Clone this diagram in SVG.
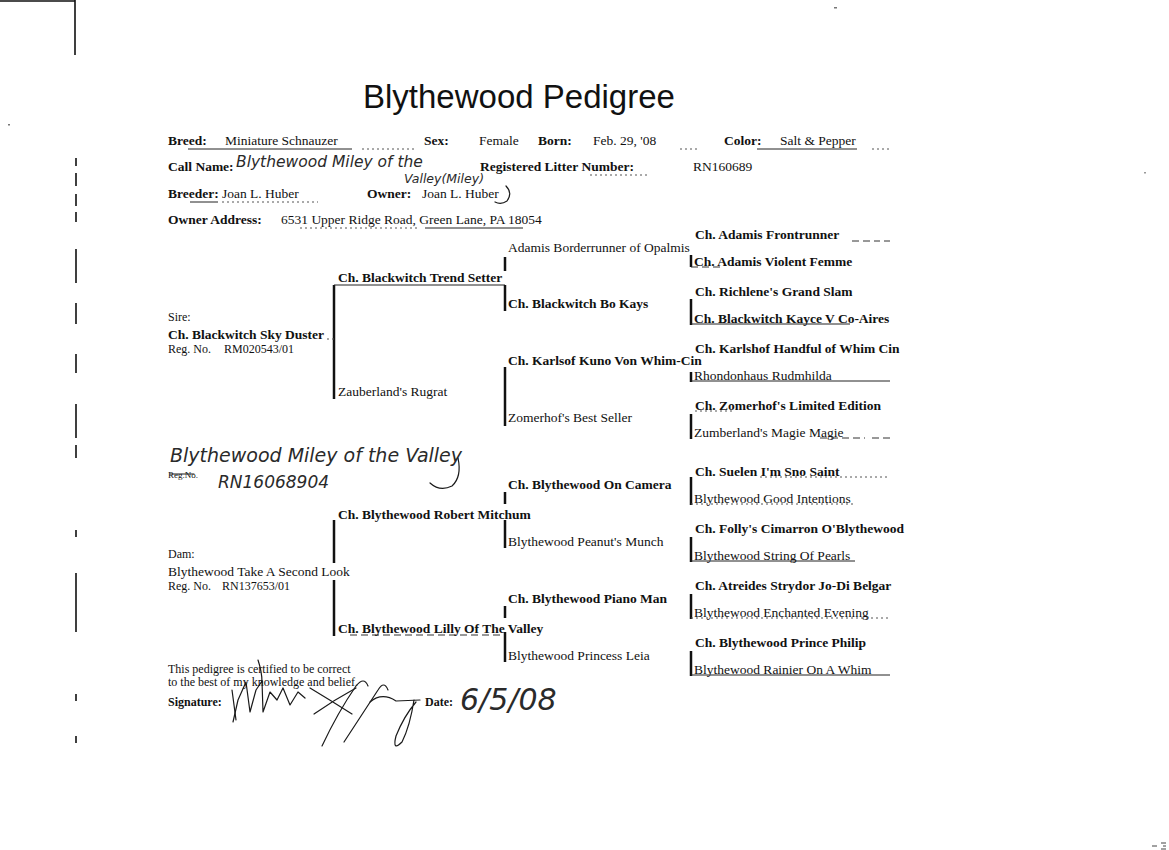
<svg xmlns="http://www.w3.org/2000/svg" width="1169" height="850" viewBox="0 0 1169 850">
<style>
.t{font-family:"Liberation Serif","Times New Roman",serif;font-size:13.5px;fill:#111}
.b{font-weight:bold}
.s{font-size:12px}
.xs{font-size:9px}
.hw{font-family:"DejaVu Sans","Liberation Sans",sans-serif;font-weight:200;font-style:italic;fill:#2a2a2a}
.title{font-family:"Liberation Sans",Arial,sans-serif;font-size:33px;fill:#111}
.bar{stroke:#111;stroke-width:2.5;fill:none}
.ul{stroke:#222;stroke-width:1;fill:none}
.dot{stroke:#555;stroke-width:1;fill:none;stroke-dasharray:2 3}
.dash{stroke:#333;stroke-width:1;fill:none;stroke-dasharray:7 4}
.ink{stroke:#1a1a1a;stroke-width:1.2;fill:none;stroke-linecap:round;stroke-linejoin:round}
.edge{stroke:#111;stroke-width:1.6;fill:none}
</style>
<rect width="1169" height="850" fill="#fff"/>

<g id="scan-marks">
  <path class="edge" d="M0,1 H75 M75,0 V55"/>
  <path class="edge" stroke="#444" d="M76,158 V166 M76,173 V186 M76,194 V206 M76,212 V222"/>
  <path class="edge" d="M76,249 V283 M76,303 V324 M76,354 V373 M76,404 V438 M76,445 V458 M76,530 V537 M76,573 V632 M76,694 V701 M76,736 V743"/>
  <rect x="8" y="124" width="2" height="1.5" fill="#777"/>
  <rect x="834" y="7" width="3" height="1.5" fill="#777"/>
  <rect x="1144" y="172" width="2" height="1.5" fill="#999"/>
  <path d="M1152,846 H1157 M1161,843 H1166 M1163,846 H1166 M1161,849 H1166" stroke="#444" stroke-width="1"/>
</g>

<g id="title"><text class="title" x="363" y="108">Blythewood Pedigree</text></g>

<g id="header">
  <text class="t b" x="168" y="145">Breed:</text>
  <text class="t" x="225" y="145">Miniature Schnauzer</text>
  <path class="ul" d="M188,149 H352"/>
  <path class="dot" d="M362,149 H415"/>
  <text class="t b" x="424" y="145">Sex:</text>
  <text class="t" x="479" y="145">Female</text>
  <text class="t b" x="538" y="145">Born:</text>
  <text class="t" x="593" y="145">Feb. 29, '08</text>
  <path class="dot" d="M680,149 H700"/>
  <text class="t b" x="724" y="145">Color:</text>
  <text class="t" x="780" y="145">Salt &amp; Pepper</text>
  <path class="ul" d="M757,149 H857"/>
  <path class="dot" d="M872,149 H890"/>

  <text class="t b" x="168" y="171">Call Name:</text>
  <text class="hw" x="236" y="166.5" font-size="15.5">Blythewood Miley of the</text>
  <text class="hw" x="404" y="183" font-size="12.5">Valley(Miley)</text>
  <text class="t b" x="480" y="171">Registered Litter Number:</text>
  <path class="dot" d="M590,175 H650"/>
  <text class="t" x="693" y="171">RN160689</text>

  <text class="t b" x="168" y="198">Breeder:</text>
  <text class="t" x="222" y="198">Joan L. Huber</text>
  <path class="ul" d="M190,202 H218"/>
  <path class="dot" d="M222,202 H318"/>
  <text class="t b" x="367" y="198">Owner:</text>
  <text class="t" x="422" y="198">Joan L. Huber</text>
  <path class="ink" d="M506,186 Q513,193 507,201 Q501,205 495,202"/>

  <text class="t b" x="168" y="224">Owner Address:</text>
  <text class="t" x="281" y="224">6531 Upper Ridge Road, Green Lane, PA 18054</text>
  <path class="dot" d="M300,228 H420"/>
  <path class="ul" d="M425,228 H523"/>
</g>

<g id="connectors">
  <path class="bar" d="M334,285 V399"/>
  <path class="ul" d="M334,285 H505"/>
  <path class="dot" d="M327,339 H334"/>
  <path class="bar" d="M505,257 V271 M505,285 V311"/>
  <path class="bar" d="M505,367 V426"/>
  <path class="bar" d="M691,255 V267"/>
  <path class="dash" d="M691,267 H722"/>
  <path class="dash" d="M852,241 H880 M884,241 H890"/>
  <path class="bar" d="M691,299 V325"/>
  <path class="ul" d="M691,324 H850"/>
  <path class="bar" d="M691,372 V382"/>
  <path class="ul" d="M691,381 H890"/>
  <path class="dot" d="M695,411 H735"/>
  <path class="bar" d="M691,414 V439"/>
  <path class="dash" d="M820,438 H865 M872,438 H890"/>
  <path class="bar" d="M334,520 V563 M334,580 V636"/>
  <path class="dash" d="M350,635 H505"/>
  <path class="bar" d="M505,492 V504 M505,520 V548"/>
  <path class="bar" d="M505,606 V618 M505,632 V662"/>
  <path class="bar" d="M691,477 V505"/>
  <path class="dot" d="M691,504 H855"/>
  <path class="dot" d="M760,477 H890"/>
  <path class="bar" d="M691,537 V562"/>
  <path class="ul" d="M691,561 H855"/>
  <path class="bar" d="M691,594 V619"/>
  <path class="dot" d="M691,618 H888"/>
  <path class="bar" d="M691,651 V676"/>
  <path class="ul" d="M691,675 H890"/>
</g>

<g id="sire">
  <text class="t s" x="168" y="321">Sire:</text>
  <text class="t b" x="168" y="339">Ch. Blackwitch Sky Duster</text>
  <text class="t s" x="168" y="353">Reg. No.</text>
  <text class="t s" x="224" y="353">RM020543/01</text>
</g>
<g id="dam">
  <text class="t s" x="168" y="558">Dam:</text>
  <text class="t" x="168" y="576">Blythewood Take A Second Look</text>
  <text class="t s" x="168" y="590">Reg. No.</text>
  <text class="t s" x="222" y="590">RN137653/01</text>
</g>

<g id="s1"><text class="t b" x="338" y="282">Ch. Blackwitch Trend Setter</text></g>
<g id="s2"><text class="t" x="338" y="396">Zauberland's Rugrat</text></g>
<g id="d1"><text class="t b" x="338" y="519">Ch. Blythewood Robert Mitchum</text></g>
<g id="d2"><text class="t b" x="338" y="633">Ch. Blythewood Lilly Of The Valley</text></g>

<g id="ss1"><text class="t" x="508" y="252">Adamis Borderrunner of Opalmis</text></g>
<g id="ss2"><text class="t b" x="508" y="308">Ch. Blackwitch Bo Kays</text></g>
<g id="sd1"><text class="t b" x="508" y="365">Ch. Karlsof Kuno Von Whim-Cin</text></g>
<g id="sd2"><text class="t" x="508" y="422">Zomerhof's Best Seller</text></g>
<g id="ds1"><text class="t b" x="508" y="489">Ch. Blythewood On Camera</text></g>
<g id="ds2"><text class="t" x="508" y="546">Blythewood Peanut's Munch</text></g>
<g id="dd1"><text class="t b" x="508" y="603">Ch. Blythewood Piano Man</text></g>
<g id="dd2"><text class="t" x="508" y="660">Blythewood Princess Leia</text></g>

<g id="g3-1"><text class="t b" x="695" y="239">Ch. Adamis Frontrunner</text></g>
<g id="g3-2"><text class="t b" x="694" y="266">Ch. Adamis Violent Femme</text></g>
<g id="g3-3"><text class="t b" x="695" y="296">Ch. Richlene's Grand Slam</text></g>
<g id="g3-4"><text class="t b" x="694" y="323">Ch. Blackwitch Kayce V Co-Aires</text></g>
<g id="g3-5"><text class="t b" x="695" y="353">Ch. Karlshof Handful of Whim Cin</text></g>
<g id="g3-6"><text class="t" x="694" y="380">Rhondonhaus Rudmhilda</text></g>
<g id="g3-7"><text class="t b" x="695" y="410">Ch. Zomerhof's Limited Edition</text></g>
<g id="g3-8"><text class="t" x="694" y="437">Zumberland's Magie Magie</text></g>
<g id="g3-9"><text class="t b" x="695" y="476">Ch. Suelen I'm Sno Saint</text></g>
<g id="g3-10"><text class="t" x="694" y="503">Blythewood Good Intentions</text></g>
<g id="g3-11"><text class="t b" x="695" y="533">Ch. Folly's Cimarron O'Blythewood</text></g>
<g id="g3-12"><text class="t" x="694" y="560">Blythewood String Of Pearls</text></g>
<g id="g3-13"><text class="t b" x="695" y="590">Ch. Atreides Strydor Jo-Di Belgar</text></g>
<g id="g3-14"><text class="t" x="694" y="617">Blythewood Enchanted Evening</text></g>
<g id="g3-15"><text class="t b" x="695" y="647">Ch. Blythewood Prince Philip</text></g>
<g id="g3-16"><text class="t" x="694" y="674">Blythewood Rainier On A Whim</text></g>

<g id="subject">
  <text class="hw" x="170" y="462" font-size="19">Blythewood Miley of the Valley</text>
  <text class="t xs" x="168" y="478">Reg.No.</text>
  <path class="ink" d="M170,474 H194"/>
  <text class="hw" x="218" y="488" font-size="17">RN16068904</text>
  <path class="ink" d="M458,458 Q462,477 452,486 Q440,492 430,483"/>
</g>

<g id="certification">
  <text class="t s" x="168" y="673">This pedigree is certified to be correct</text>
  <text class="t s" x="168" y="686">to the best of my knowledge and belief.</text>
  <text class="t b s" x="168" y="706">Signature:</text>
  <text class="t b s" x="425" y="706">Date:</text>
  <text class="hw" x="460" y="710" font-size="30">6/5/08</text>
  <path class="ink" d="M233,722 L238,700 L246,682 L250,712 L256,690 L262,681 L263,712 L270,692 L277,700 L283,688 L290,705 L298,692 L305,698"/>
  <path class="ink" d="M232,690 L236,720 M258,660 Q262,672 262,682"/>
  <path class="ink" d="M310,688 Q330,700 352,714 M314,714 Q334,700 356,688"/>
  <path class="ink" d="M322,746 Q338,712 356,686 Q364,676 368,686"/>
  <path class="ink" d="M344,742 L378,690 Q384,680 388,690"/>
  <path class="ink" d="M370,702 Q382,692 396,701 L420,700"/>
  <path class="ink" d="M414,700 Q410,726 402,742 Q392,752 396,736 Q404,716 416,702"/>
</g>
</svg>
